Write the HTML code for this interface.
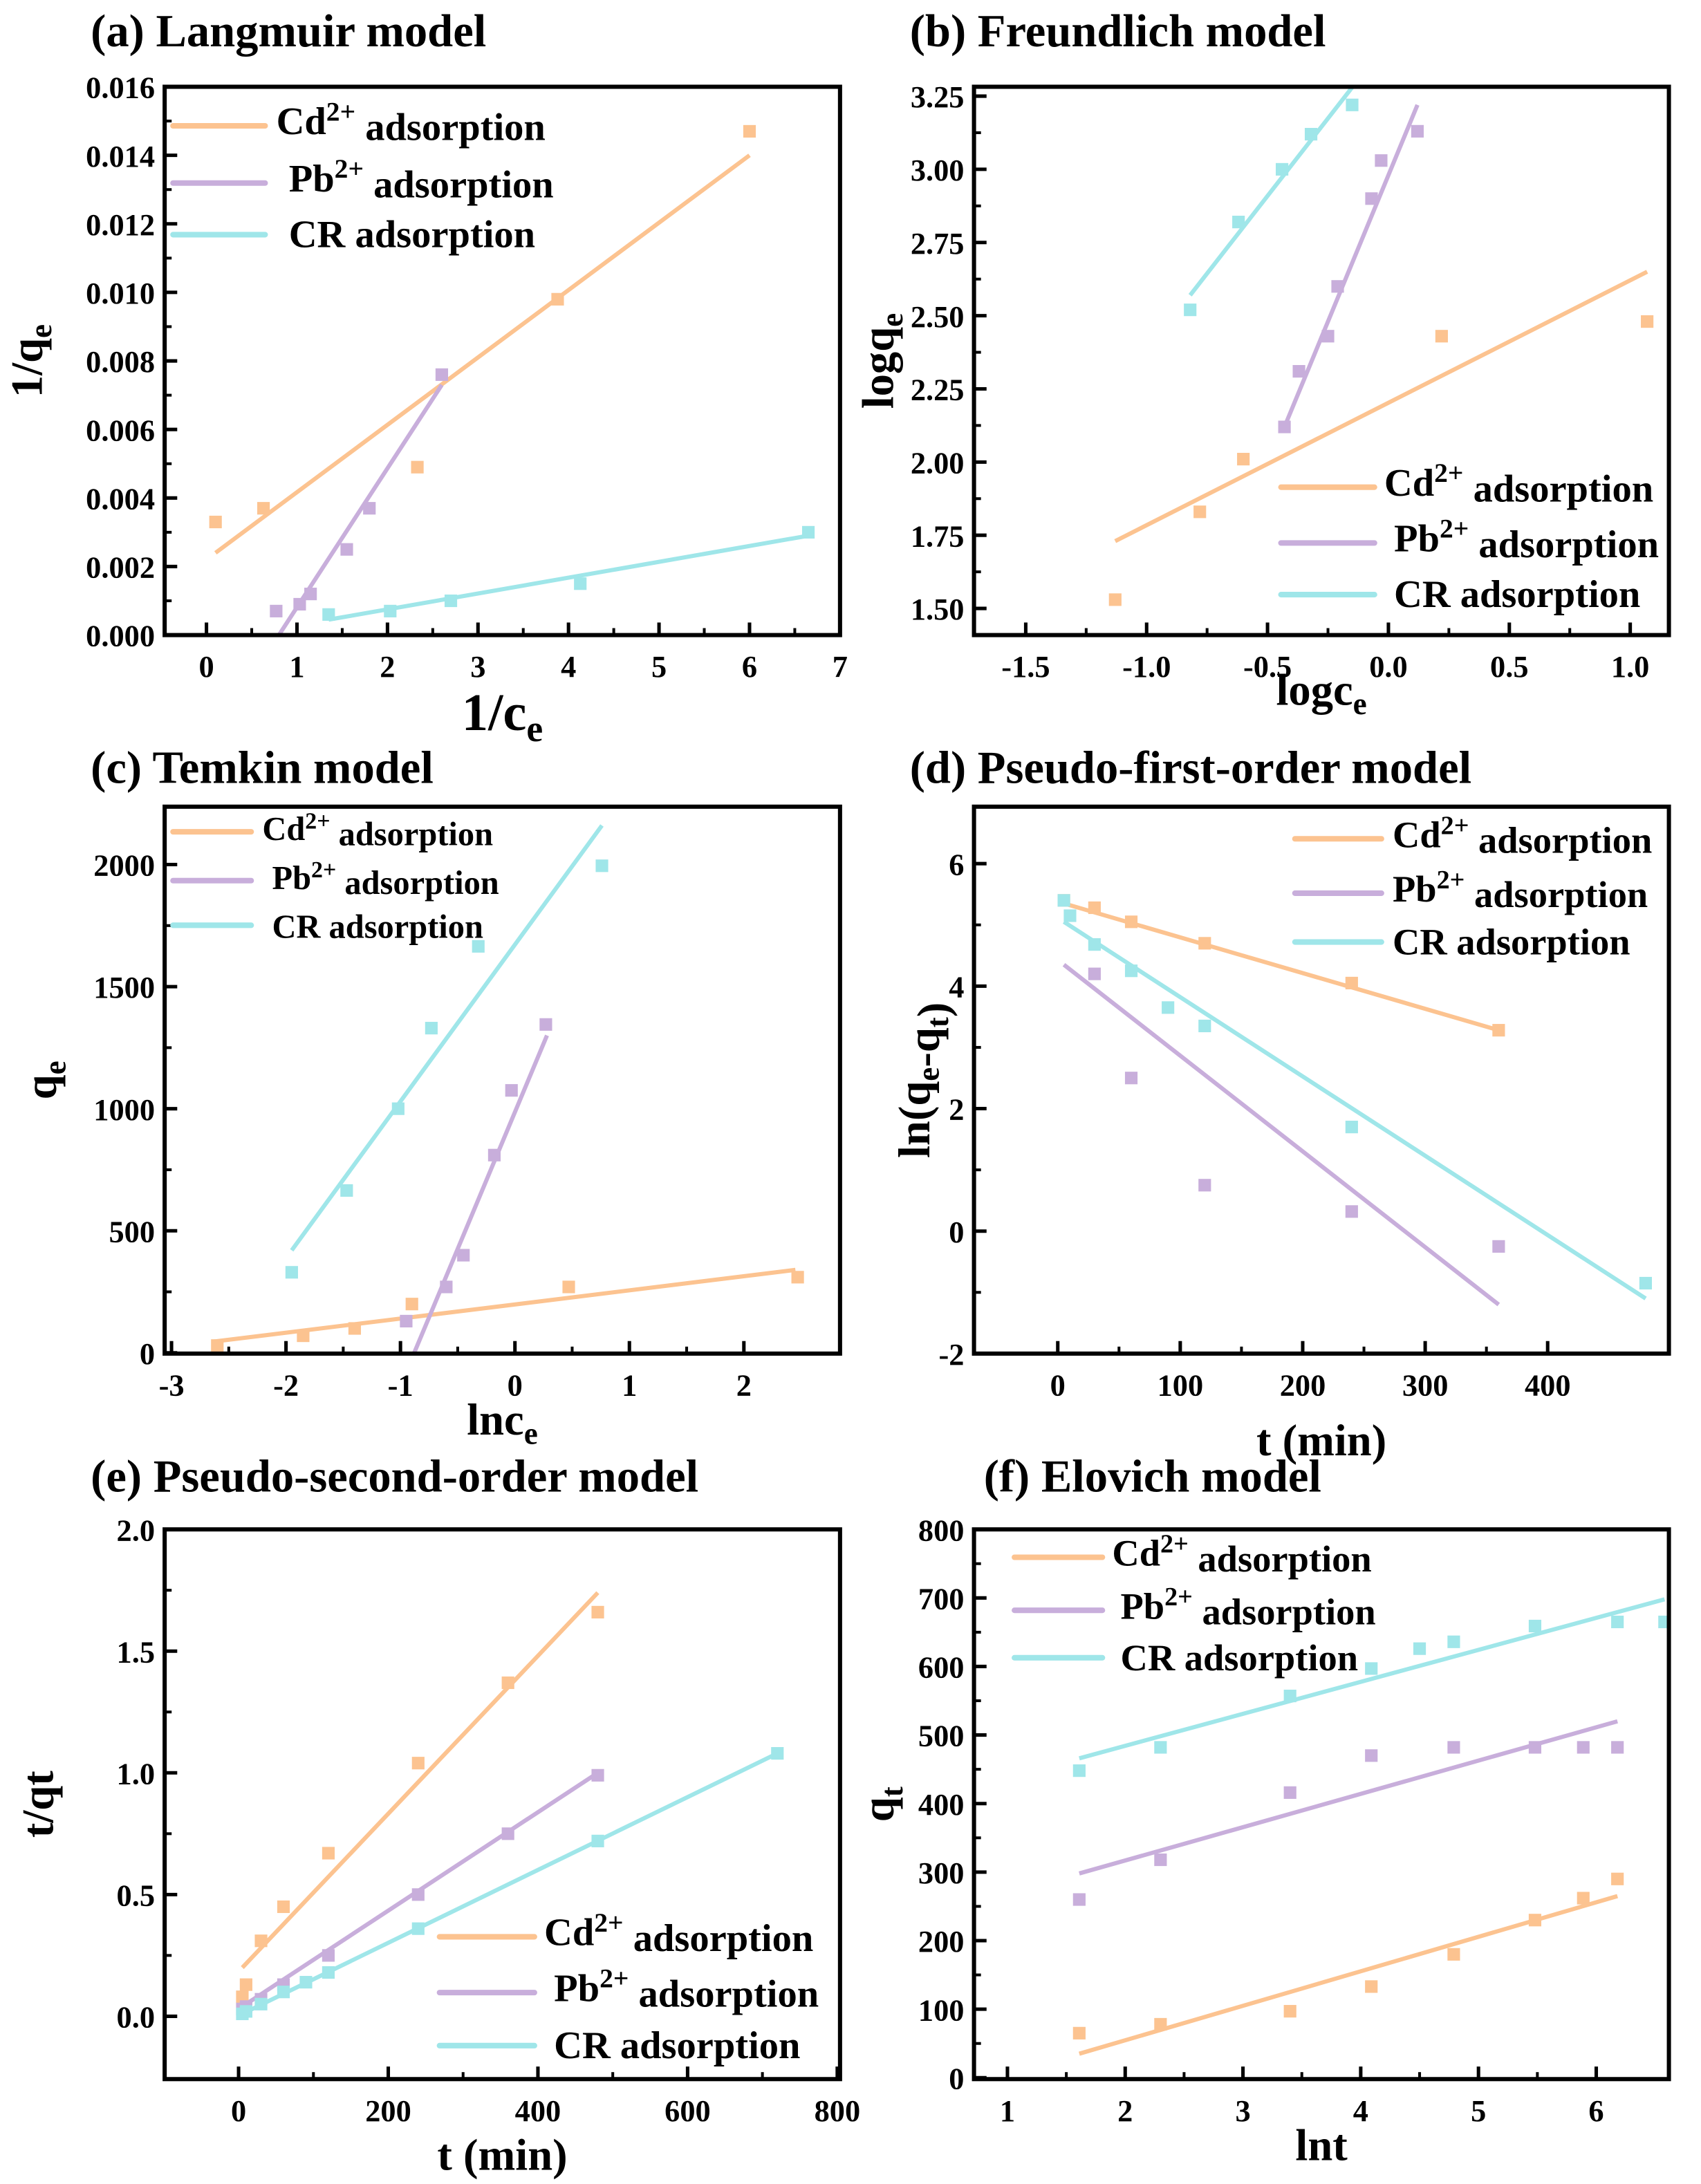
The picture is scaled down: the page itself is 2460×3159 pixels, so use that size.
<!DOCTYPE html>
<html><head><meta charset="utf-8"><style>
html,body{margin:0;padding:0;background:#fff;}
svg{display:block;}
svg text{font-family:"Liberation Serif","DejaVu Serif",serif;font-weight:bold;}
</style></head><body>
<svg id="fig" width="2460" height="3159" viewBox="0 0 1219 1565" xmlns="http://www.w3.org/2000/svg"></svg>
<script>
// ---- data arrays ----
const aCdX=[0.1,0.63,2.33,3.88,6.0], aCdY=[0.0033,0.0037,0.0049,0.0098,0.0147], aCdFit=[[0.1,0.0024],[6.0,0.0140]];
const aPbX=[0.77,1.03,1.15,1.55,1.8,2.6], aPbY=[0.0007,0.0009,0.0012,0.0025,0.0037,0.0076], aPbFit=[[0.8,0.0],[2.6,0.0073]];
const aCRX=[1.35,2.03,2.7,4.13,6.65], aCRY=[0.0006,0.0007,0.0010,0.0015,0.0030], aCRFit=[[1.35,0.00045],[6.65,0.0029]];
const aXTicks=[0,1,2,3,4,5,6,7], aYTicks=["0.000","0.002","0.004","0.006","0.008","0.010","0.012","0.014","0.016"];

const bCdX=[-1.13,-0.78,-0.6,0.22,1.07], bCdY=[1.53,1.83,2.01,2.43,2.48], bCdFit=[[-1.13,1.73],[1.07,2.65]];
const bPbX=[-0.43,-0.37,-0.25,-0.21,-0.07,-0.03,0.12], bPbY=[2.12,2.31,2.43,2.60,2.90,3.03,3.13], bPbFit=[[-0.43,2.12],[0.12,3.22]];
const bCRX=[-0.82,-0.62,-0.44,-0.32,-0.15], bCRY=[2.52,2.82,3.0,3.12,3.22], bCRFit=[[-0.82,2.57],[-0.15,3.28]];
const bXTicks=["-1.5","-1.0","-0.5","0.0","0.5","1.0"], bYTicks=["1.50","1.75","2.00","2.25","2.50","2.75","3.00","3.25"];

const cCdX=[-2.6,-1.85,-1.4,-0.9,0.47,2.47], cCdY=[30,70,100,200,270,310], cCdFit=[[-2.65,45],[2.45,340]];
const cPbX=[-0.95,-0.6,-0.45,-0.18,-0.03,0.27], cPbY=[130,270,400,810,1075,1345], cPbFit=[[-0.88,0],[0.28,1300]];
const cCRX=[-1.95,-1.47,-1.02,-0.73,-0.32,0.76], cCRY=[330,665,1000,1330,1665,1995], cCRFit=[[-1.95,420],[0.76,2160]];
const cXTicks=[-3,-2,-1,0,1,2], cYTicks=[0,500,1000,1500,2000];

const dCdX=[5,30,60,120,240,360], dCdY=[5.4,5.28,5.05,4.7,4.05,3.28], dCdFit=[[5,5.35],[360,3.28]];
const dPbX=[30,60,120,240,360], dPbY=[4.2,2.5,0.75,0.32,-0.25], dPbFit=[[5,4.35],[360,-1.2]];
const dCRX=[5,10,30,60,90,120,240,480], dCRY=[5.4,5.15,4.68,4.25,3.65,3.35,1.7,-0.85], dCRFit=[[5,5.05],[480,-1.1]];
const dXTicks=[0,100,200,300,400], dYTicks=[-2,0,2,4,6];

const eCdX=[5,10,30,60,120,240,360,480], eCdY=[0.08,0.13,0.31,0.45,0.67,1.04,1.37,1.66], eCdFit=[[5,0.2],[480,1.74]];
const ePbX=[5,10,30,60,120,240,360,480], ePbY=[0.03,0.04,0.07,0.13,0.25,0.5,0.75,0.99], ePbFit=[[5,0.04],[480,1.0]];
const eCRX=[5,10,30,60,90,120,240,480,720], eCRY=[0.01,0.02,0.05,0.1,0.14,0.18,0.36,0.72,1.08], eCRFit=[[5,0.01],[720,1.08]];
const eXTicks=[0,200,400,600,800], eYTicks=["0.0","0.5","1.0","1.5","2.0"];

const fCdX=[1.61,2.3,3.4,4.09,4.79,5.48,5.89,6.18], fCdY=[65,78,97,133,180,230,262,290], fCdFit=[[1.61,35],[6.18,265]];
const fPbX=[1.61,2.3,3.4,4.09,4.79,5.48,5.89,6.18], fPbY=[260,318,416,470,482,482,482,482], fPbFit=[[1.61,298],[6.18,520]];
const fCRX=[1.61,2.3,3.4,4.09,4.5,4.79,5.48,6.18,6.58], fCRY=[448,482,557,597,626,636,659,665,665], fCRFit=[[1.61,466],[6.58,698]];
const fXTicks=[1,2,3,4,5,6], fYTicks=[0,100,200,300,400,500,600,700,800];

const COL={Cd:"#fcc390",Pb:"#c8aedb",CR:"#9fe6e9"};
const NS="http://www.w3.org/2000/svg";
const svg=document.getElementById('fig');
function mk(tag,attrs,parent){const e=document.createElementNS(NS,tag);for(const k in attrs)e.setAttribute(k,attrs[k]);(parent||svg).appendChild(e);return e;}
const SUB=s=>'<tspan font-size="70%" dy="0.3em">'+s+'</tspan>';
const SUBR=(s)=>'<tspan font-size="70%" dy="0.3em">'+s+'</tspan><tspan dy="-0.3em"></tspan>';

function panel(P){
  const g=mk('g',{});
  
  
  const sx=v=>P.x0+(v-P.xmin)/(P.xmax-P.xmin)*(P.x1-P.x0);
  const sy=v=>P.y1-(v-P.ymin)/(P.ymax-P.ymin)*(P.y1-P.y0);
  const t=mk('text',{x:P.tx,y:P.ty,'font-size':33},g);t.textContent=P.title;
  
  P.series.forEach(s=>{
    const sg=mk('g',{},g);
    
    
    const ln=mk('line',{x1:sx(s.fit[0][0]),y1:sy(s.fit[0][1]),x2:sx(s.fit[1][0]),y2:sy(s.fit[1][1]),stroke:COL[s.k],'stroke-width':3},sg);
    
    
    s.x.forEach((xv,i)=>{
      const r=mk('rect',{x:sx(xv)-4.5,y:sy(s.y[i])-4.5,width:9,height:9,fill:COL[s.k]},sg);
      
      
    });
  });
  const fr=mk('rect',{x:P.x0,y:P.y0,width:P.x1-P.x0,height:P.y1-P.y0,fill:'none',stroke:'#000','stroke-width':3},g);
  
  P.xt.forEach((tv,i)=>{
    const v=parseFloat(tv),x=sx(v);
    mk('line',{x1:x,y1:P.y1,x2:x,y2:P.y1-9,stroke:'#000','stroke-width':2.5},g);
    if(i<P.xt.length-1){const xm=sx(v+(parseFloat(P.xt[1])-parseFloat(P.xt[0]))/2);if(xm<P.x1)mk('line',{x1:xm,y1:P.y1,x2:xm,y2:P.y1-5,stroke:'#000','stroke-width':2},g);}
    const tt=mk('text',{x:x,y:P.y1+30,'font-size':22,'text-anchor':'middle'},g);tt.textContent=tv;
    
  });
  P.yt.forEach((tv,i)=>{
    const v=parseFloat(tv),y=sy(v);
    mk('line',{x1:P.x0,y1:y,x2:P.x0+9,y2:y,stroke:'#000','stroke-width':2.5},g);
    if(i<P.yt.length-1){const ym=sy(v+(parseFloat(P.yt[1])-parseFloat(P.yt[0]))/2);mk('line',{x1:P.x0,y1:ym,x2:P.x0+5,y2:ym,stroke:'#000','stroke-width':2},g);}
    const tt=mk('text',{x:P.x0-7,y:y+8,'font-size':22,'text-anchor':'end'},g);tt.textContent=tv;
    
  });
  const xl=mk('text',{x:(P.x0+P.x1)/2,y:P.xly,'font-size':P.xls||32,'text-anchor':'middle'},g);xl.innerHTML=P.xl;
  
  const yc=(P.y0+P.y1)/2;
  const yl=mk('text',{x:P.ylx,y:yc,'font-size':32,'text-anchor':'middle',transform:`rotate(-90 ${P.ylx} ${yc})`},g);yl.innerHTML=P.yl;
  
  const names={Cd:'Cd<tspan font-size="70%" dy="-0.5em">2+</tspan><tspan dy="0.5em"> adsorption</tspan>',Pb:'Pb<tspan font-size="70%" dy="-0.5em">2+</tspan><tspan dy="0.5em"> adsorption</tspan>',CR:'CR adsorption'};
  P.series.forEach((s,i)=>{
    const le=mk('g',{},g);
    
    
    const y=P.leg.y[i];
    mk('line',{x1:P.leg.x1,y1:y,x2:P.leg.x2,y2:y,stroke:COL[s.k],'stroke-width':4,'stroke-linecap':'round'},le);
    const lt=mk('text',{x:P.leg.tx[i],y:y+(s.k==='CR'?9:6),'font-size':P.leg.fs},le);lt.innerHTML=names[s.k];
  });
}

panel({id:'a',title:'(a) Langmuir model',tx:65,ty:33,x0:118,x1:602,y0:62,y1:455,xmin:-0.462,xmax:7,ymin:0,ymax:0.016,
 xt:aXTicks.map(String),yt:aYTicks,xl:'1/c'+SUB('e'),xly:523,xls:38,
 yl:'1/q'+SUB('e'),ylx:30,
 leg:{x1:124,x2:190,y:[90,131,168],tx:[198,207,207],fs:28},
 series:[{k:'Cd',x:aCdX,y:aCdY,fit:aCdFit},{k:'Pb',x:aPbX,y:aPbY,fit:aPbFit},{k:'CR',x:aCRX,y:aCRY,fit:aCRFit}]});
panel({id:'b',title:'(b) Freundlich model',tx:652,ty:33,x0:698,x1:1196,y0:62,y1:455,xmin:-1.714,xmax:1.16,ymin:1.409,ymax:3.282,
 xt:bXTicks,yt:bYTicks,xl:'logc'+SUB('e'),xly:505,
 yl:'logq'+SUB('e'),ylx:640,
 leg:{x1:918,x2:985,y:[349,389,426],tx:[992,999,999],fs:28},
 series:[{k:'Cd',x:bCdX,y:bCdY,fit:bCdFit},{k:'Pb',x:bPbX,y:bPbY,fit:bPbFit},{k:'CR',x:bCRX,y:bCRY,fit:bCRFit}]});
panel({id:'c',title:'(c) Temkin model',tx:65,ty:561,x0:118,x1:602,y0:578,y1:970,xmin:-3.06,xmax:2.84,ymin:-3,ymax:2237,
 xt:cXTicks.map(String),yt:cYTicks.map(String),xl:'lnc'+SUB('e'),xly:1028,
 yl:'q'+SUB('e'),ylx:40,
 leg:{x1:124,x2:180,y:[596,631,663],tx:[188,195,195],fs:24},
 series:[{k:'Cd',x:cCdX,y:cCdY,fit:cCdFit},{k:'Pb',x:cPbX,y:cPbY,fit:cPbFit},{k:'CR',x:cCRX,y:cCRY,fit:cCRFit}]});
panel({id:'d',title:'(d) Pseudo-first-order model',tx:652,ty:561,x0:698,x1:1196,y0:578,y1:970,xmin:-68.4,xmax:499,ymin:-2,ymax:6.93,
 xt:dXTicks.map(String),yt:dYTicks.map(String),xl:'t (min)',xly:1043,
 yl:'ln(q'+SUBR('e')+'-q'+SUBR('t')+')',ylx:666,
 leg:{x1:928,x2:990,y:[601,640,675],tx:[998,998,998],fs:27},
 series:[{k:'Cd',x:dCdX,y:dCdY,fit:dCdFit},{k:'Pb',x:dPbX,y:dPbY,fit:dPbFit},{k:'CR',x:dCRX,y:dCRY,fit:dCRFit}]});
panel({id:'e',title:'(e) Pseudo-second-order model',tx:65,ty:1069,x0:118,x1:602,y0:1096,y1:1490,xmin:-98.8,xmax:803.7,ymin:-0.258,ymax:2.0,
 xt:eXTicks.map(String),yt:eYTicks,xl:'t (min)',xly:1555,
 yl:'t/qt',ylx:38,
 leg:{x1:315,x2:383,y:[1388,1428,1466],tx:[390,397,397],fs:28},
 series:[{k:'Cd',x:eCdX,y:eCdY,fit:eCdFit},{k:'Pb',x:ePbX,y:ePbY,fit:ePbFit},{k:'CR',x:eCRX,y:eCRY,fit:eCRFit}]});
panel({id:'f',title:'(f) Elovich model',tx:705,ty:1069,x0:698,x1:1196,y0:1096,y1:1490,xmin:0.716,xmax:6.617,ymin:-2,ymax:800,
 xt:fXTicks.map(String),yt:fYTicks.map(String),xl:'lnt',xly:1548,
 yl:'q'+SUB('t'),ylx:640,
 leg:{x1:727,x2:790,y:[1116,1154,1188],tx:[797,803,803],fs:27},
 series:[{k:'Cd',x:fCdX,y:fCdY,fit:fCdFit},{k:'Pb',x:fPbX,y:fPbY,fit:fPbFit},{k:'CR',x:fCRX,y:fCRY,fit:fCRFit}]});
</script>
</body></html>
